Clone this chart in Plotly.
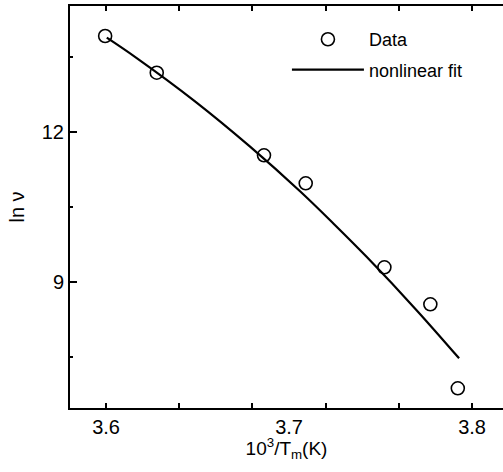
import plotly.graph_objects as go

# Measured data points
data_x = [3.5995, 3.6277, 3.6863, 3.7091, 3.7521, 3.7772, 3.7922]
data_y = [13.92, 13.186, 11.534, 10.974, 9.294, 8.554, 6.874]

# Nonlinear fit curve
fit_x = [3.6004, 3.6158, 3.6486, 3.6787, 3.7060, 3.7242, 3.7425, 3.7698, 3.7929]
fit_y = [13.886, 13.502, 12.612, 11.706, 10.814, 10.17, 9.498, 8.432, 7.474]

# Axis ticks
x_label_vals = [3.6, 3.7, 3.8]
x_label_text = ["3.6", "3.7", "3.8"]
x_tick_marks = [3.6, 3.64, 3.68, 3.72, 3.76, 3.8]
y_label_vals = [9, 12]
y_label_text = ["9", "12"]
y_minor_vals = [7.5, 10.5, 13.5]

FONT = "Liberation Sans, Arial, Helvetica, sans-serif"
X_RANGE = [3.5803, 3.8169]
Y_RANGE = [6.48, 14.52]

fig = go.Figure()
fig.add_trace(go.Scatter(
    x=data_x, y=data_y, mode="markers", name="Data", legendgroup="a",
    marker=dict(symbol="circle-open", size=13, color="black", line=dict(width=1.6, color="black")),
))
fig.add_trace(go.Scatter(
    x=fit_x, y=fit_y, mode="lines", name="nonlinear fit", legendgroup="b",
    line=dict(color="black", width=2.2, shape="spline", smoothing=1.0),
))
# empty trace to carry the tick-mark axis
fig.add_trace(go.Scatter(x=[None], y=[None], xaxis="x2", yaxis="y", showlegend=False, hoverinfo="skip"))

fig.update_layout(
    width=503, height=472,
    margin=dict(l=70, r=0, t=6, b=64),
    paper_bgcolor="white", plot_bgcolor="white",
    font=dict(family=FONT, color="black", size=20),
    showlegend=True,
    legend=dict(
        x=0.501, y=0.9625, xanchor="left", yanchor="top",
        bgcolor="rgba(0,0,0,0)", font=dict(size=18, family=FONT),
        tracegroupgap=4, itemwidth=72,
    ),
    xaxis=dict(
        range=X_RANGE, tickvals=x_label_vals, ticktext=x_label_text,
        ticks="", showline=True, linewidth=2, linecolor="black", mirror=True,
        showgrid=False, zeroline=False, tickfont=dict(size=20),
    ),
    xaxis2=dict(
        range=X_RANGE, overlaying="x", side="bottom", tickvals=x_tick_marks,
        ticks="inside", ticklen=5, tickwidth=2, tickcolor="black",
        showticklabels=False, showline=True, linewidth=2, linecolor="black",
        mirror="ticks", showgrid=False, zeroline=False,
        title=dict(text="10<sup>3</sup>/T<sub>m</sub>(K)", font=dict(size=19), standoff=33),
    ),
    yaxis=dict(
        range=Y_RANGE, tickvals=y_label_vals, ticktext=y_label_text,
        ticks="inside", ticklen=7, tickwidth=2, tickcolor="black",
        minor=dict(tickvals=y_minor_vals, ticks="inside", ticklen=3, tickwidth=2, tickcolor="black"),
        showline=True, linewidth=2, linecolor="black", mirror=False,
        showgrid=False, zeroline=False, tickfont=dict(size=20),
        title=dict(text="ln ν", font=dict(size=20), standoff=12),
    ),
)

fig.write_html("out.html")
